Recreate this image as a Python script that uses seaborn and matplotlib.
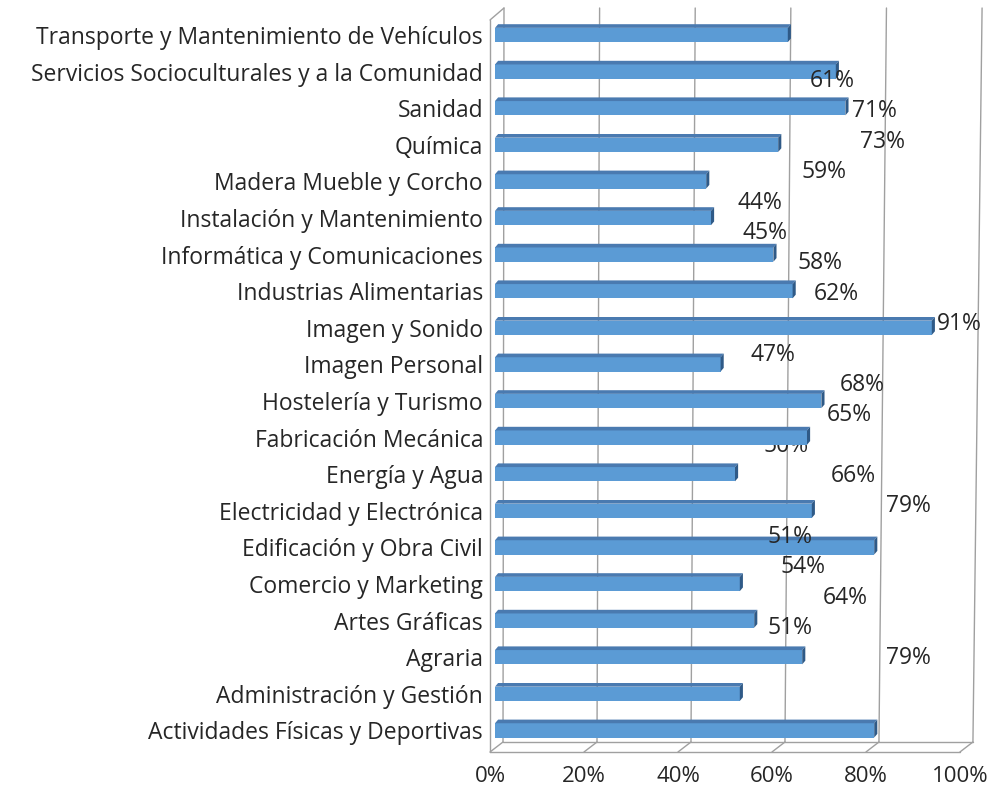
import matplotlib.pyplot as plt
import seaborn as sns
import pandas as pd
from matplotlib.patches import Polygon

familias = [
    'Transporte y Mantenimiento de Vehículos',
    'Servicios Socioculturales y a la Comunidad',
    'Sanidad',
    'Química',
    'Madera Mueble y Corcho',
    'Instalación y Mantenimiento',
    'Informática y Comunicaciones',
    'Industrias Alimentarias',
    'Imagen y Sonido',
    'Imagen Personal',
    'Hostelería y Turismo',
    'Fabricación Mecánica',
    'Energía y Agua',
    'Electricidad y Electrónica',
    'Edificación y Obra Civil',
    'Comercio y Marketing',
    'Artes Gráficas',
    'Agraria',
    'Administración y Gestión',
    'Actividades Físicas y Deportivas',
]
valores = [61, 71, 73, 59, 44, 45, 58, 62, 91, 47, 68, 65, 50, 66, 79, 51, 54, 64, 51, 79]
ticks_x = [0, 20, 40, 60, 80, 100]

df = pd.DataFrame({'familia': familias, 'valor': valores})

sns.set_style('white')
plt.rcParams['font.family'] = ['Open Sans', 'DejaVu Sans']
texto = '#262626'
rejilla = '#a0a0a0'

fig = plt.figure(figsize=(10.01, 7.87), dpi=100)
# ejes: px 490 -> -1.04, 0% en px 495, 100% en px 975; filas cada 36.6 px
ax = fig.add_axes([490 / 1001, 1 - 752 / 787, 485 / 1001, 744 / 787])

sns.barplot(data=df, x='valor', y='familia', orient='h', color='#5b9bd5',
            saturation=1, width=0.39, linewidth=0, ax=ax, zorder=3)

# efecto 3D: cara superior y lateral
dx, dy = 0.65, 0.1
for p in list(ax.patches):
    x0, y0 = p.get_x(), p.get_y()
    w, h = p.get_width(), p.get_height()
    top = Polygon([(x0, y0), (x0 + w, y0), (x0 + w + dx, y0 - dy), (x0 + dx, y0 - dy)],
                  closed=True, facecolor='#4a7ab0', edgecolor='none', zorder=3)
    side = Polygon([(x0 + w, y0), (x0 + w + dx, y0 - dy), (x0 + w + dx, y0 + h - dy), (x0 + w, y0 + h)],
                   closed=True, facecolor='#2f5a87', edgecolor='none', zorder=3)
    ax.add_patch(top)
    ax.add_patch(side)

# limites en datos (px 8 arriba, px 752 abajo)
y_top = (8 - 35) / 36.6
y_back = (742 - 35) / 36.6
y_front = (752 - 35) / 36.6

# pared del fondo y suelo
for v in ticks_x:
    xt = 1.875 + 0.996 * v
    xb = 1.67 + 0.979 * v
    xf = -1.04 + 0.979 * v
    ax.plot([xt, xb], [y_top, y_back], color=rejilla, lw=1, zorder=1, clip_on=False)
    ax.plot([xb, xf], [y_back, y_front], color=rejilla, lw=1, zorder=1, clip_on=False)
ax.plot([1.67, 1.67 + 97.9], [y_back, y_back], color=rejilla, lw=1, zorder=1, clip_on=False)
ax.plot([-1.04, -1.04 + 97.9], [y_front, y_front], color=rejilla, lw=1, zorder=1, clip_on=False)
# pared izquierda
y_lt = (20 - 35) / 36.6
ax.plot([-1.04, -1.04], [y_lt, y_front], color=rejilla, lw=1, zorder=1, clip_on=False)
ax.plot([-1.04, 1.875], [y_lt, y_top], color=rejilla, lw=1, zorder=1, clip_on=False)

# etiquetas de datos (desplazadas como en el original); la del 50% queda tras la barra
ocultas = [12]
for i, v in enumerate(valores):
    ax.text(11.9 + 0.88 * v, 1.26 + 0.83 * i, f'{v}%', ha='left', va='center',
            fontsize=16.5, color=texto, zorder=2 if i in ocultas else 4)

for s in ax.spines.values():
    s.set_visible(False)
ax.set_xticks([-1.04 + 0.979 * v for v in ticks_x])
ax.set_xticklabels([f'{v}%' for v in ticks_x], fontsize=16, color=texto)
ax.tick_params(axis='x', length=0, pad=10)
ax.tick_params(axis='y', length=0, pad=5, labelsize=16.5, labelcolor=texto)
ax.set_xlabel('')
ax.set_ylabel('')
ax.set_xlim(-1.04, 100)
ax.set_ylim(y_front, y_top)

fig.savefig('out.png', dpi=100)
